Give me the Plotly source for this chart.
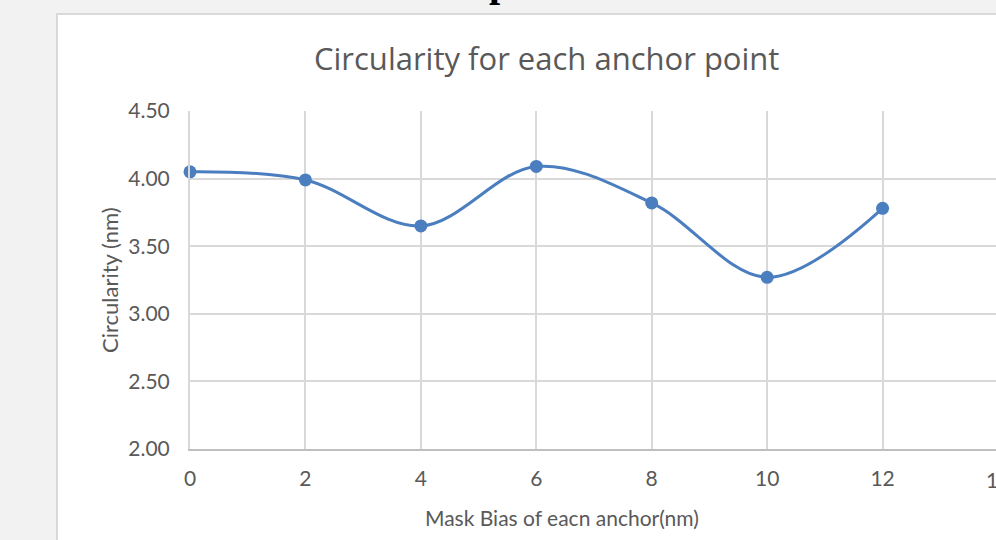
import plotly.graph_objects as go

x_vals = [0, 2, 4, 6, 8, 10, 12]
circularity = [4.05, 3.99, 3.65, 4.09, 3.82, 3.27, 3.78]
x_ticks = [0, 2, 4, 6, 8, 10, 12, 14]
y_ticks = [2.0, 2.5, 3.0, 3.5, 4.0, 4.5]
y_tick_labels = ["2.00", "2.50", "3.00", "3.50", "4.00", "4.50"]

W, H = 996, 540
L, R, T, B = 190, 0, 111, 91
PW, PH = W - L - R, H - T - B

def px(xp):
    return (xp - L) / PW

def py(yp):
    return (H - B - yp) / PH

FONT = "Lato"
TXT = "#595959"
BLUE = "#4a7ebf"

fig = go.Figure()
fig.add_trace(go.Scatter(
    x=x_vals, y=circularity, mode="lines+markers",
    line=dict(color=BLUE, width=3, shape="spline", smoothing=1.0),
    marker=dict(color=BLUE, size=13),
    showlegend=False, cliponaxis=False,
))

fig.update_layout(
    width=W, height=H,
    margin=dict(l=L, r=R, t=T, b=B, pad=0),
    paper_bgcolor="#f2f2f2",
    plot_bgcolor="white",
    font=dict(family=FONT, color=TXT, size=21),
    xaxis=dict(
        range=[0, 14 * PW / 808], tickvals=x_ticks, ticktext=[str(v) for v in x_ticks],
        showgrid=True, gridcolor="#d9d9d9", gridwidth=2,
        showline=True, linecolor="#bfbfbf", linewidth=2,
        ticks="", ticklabelstandoff=10, zeroline=False,
        tickfont=dict(family=FONT, color=TXT, size=21),
    ),
    yaxis=dict(
        range=[2, 4.5], tickvals=y_ticks, ticktext=y_tick_labels,
        showgrid=True, gridcolor="#d9d9d9", gridwidth=2,
        showline=True, linecolor="#d9d9d9", linewidth=2,
        ticks="", ticklabelstandoff=14, zeroline=False,
        tickfont=dict(family=FONT, color=TXT, size=21),
    ),
    shapes=[dict(
        type="rect", xref="paper", yref="paper",
        x0=px(57), x1=px(1100), y0=py(700), y1=py(14),
        fillcolor="white", line=dict(color="#d9d9d9", width=2), layer="below",
    )],
    annotations=[
        dict(text="Circularity for each anchor point", xref="paper", yref="paper",
             x=px(546), y=py(58), xanchor="center", yanchor="middle", showarrow=False,
             font=dict(family="Open Sans", size=31, color=TXT)),
        dict(text="Mask Bias of eacn anchor(nm)", xref="paper", yref="paper",
             x=px(562), y=py(517), xanchor="center", yanchor="middle", showarrow=False,
             font=dict(family=FONT, size=21, color=TXT)),
        dict(text="Circularity (nm)", xref="paper", yref="paper", textangle=-90,
             x=px(109), y=py(280), xanchor="center", yanchor="middle", showarrow=False,
             font=dict(family=FONT, size=22, color=TXT)),
        dict(text="14", xref="paper", yref="paper",
             x=px(998), y=py(479), xanchor="center", yanchor="middle", showarrow=False,
             font=dict(family=FONT, size=21, color=TXT)),
        dict(text="<b>p</b>", xref="paper", yref="paper",
             x=px(500), y=py(7), xanchor="center", yanchor="bottom", showarrow=False,
             font=dict(family="Liberation Serif", size=40, color="black")),
    ],
)

fig.write_html("out.html")
